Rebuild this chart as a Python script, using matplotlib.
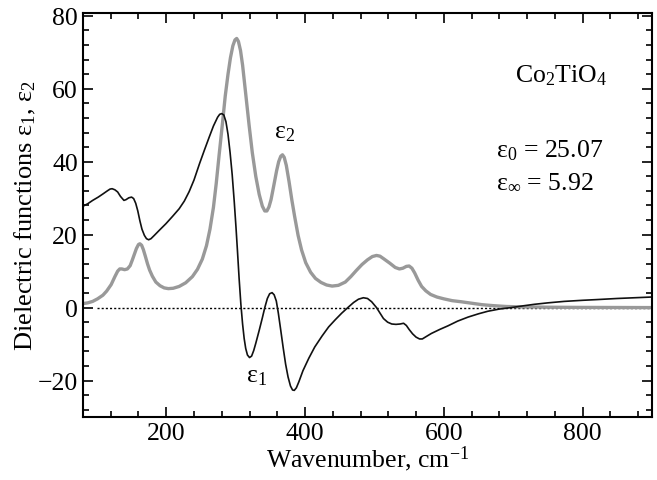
import matplotlib
matplotlib.use("Agg")
import matplotlib.pyplot as plt
from matplotlib.ticker import MultipleLocator

# ---- data ----
eps1_x = [80, 87, 94, 102, 109, 115, 119, 122, 126, 130, 134, 139, 142, 146, 150, 153, 156,
          159, 162, 165, 168.5, 171.5, 174.6, 178, 182.8, 190, 199.5, 209, 218.6, 226, 233,
          240, 248, 255, 262, 268, 274, 277, 280, 283, 286, 289, 292, 295, 298, 300.5,
          302.7, 305, 307.5, 310, 312.3, 314.5, 317, 320, 323, 326, 329, 334, 338.5, 342,
          345.7, 349, 352.5, 355.5, 358.6, 361.5, 365, 368.5, 372, 375.5, 379, 382, 384.5,
          387.5, 391, 397, 405.4, 414, 424.5, 434, 443.7, 453, 462.8, 470, 477, 484, 490,
          496, 503, 508, 513, 519, 525, 531, 537, 542, 546, 550, 555, 560, 565, 569, 575,
          582, 594, 606, 620, 635, 650, 663.5, 680, 697, 715, 730.5, 750, 773.5, 800, 821,
          850, 875, 900]
eps1_y = [27.8, 28.5, 29.4, 30.3, 31.2, 32.0, 32.5, 32.6, 32.3, 31.7, 30.5, 29.4, 29.6, 30.1,
          30.3, 29.9, 28.6, 26.5, 23.8, 21.5, 19.8, 18.9, 18.6, 18.9, 19.8, 21.2, 23.0, 25.0,
          27.1, 29.2, 31.8, 35.0, 39.5, 43.2, 46.8, 49.8, 52.2, 53.0, 53.2, 52.8, 51.0, 47.5,
          42.5, 36.5, 29.0, 22.0, 15.3, 8.0, 1.0, -4.5, -8.5, -11.2, -13.0, -13.7, -13.3,
          -11.8, -9.8, -6.2, -2.8, 0.0, 2.5, 3.8, 4.1, 3.5, 1.8, -1.5, -6.2, -11.0, -15.5,
          -19.0, -21.5, -22.6, -22.7, -22.0, -20.4, -17.3, -13.9, -10.8, -7.8, -5.3, -3.3,
          -1.5, 0.2, 1.4, 2.3, 2.7, 2.5, 1.6, 0.0, -1.5, -3.0, -4.0, -4.5, -4.6, -4.5, -4.3,
          -4.9, -6.0, -7.2, -8.1, -8.6, -8.6, -7.9, -7.1, -6.0, -5.0, -3.7, -2.6, -1.7, -1.0,
          -0.4, 0.0, 0.5, 0.9, 1.3, 1.7, 2.0, 2.2, 2.5, 2.7, 2.9]

eps2_x = [80, 87, 94, 101, 108.7, 114, 120.6, 126, 130, 133, 136, 140, 144, 148, 151, 154,
          157, 160, 162, 164.5, 167, 170, 173, 176, 180, 185, 191, 197, 203, 210, 218.6, 228,
          237.7, 245, 252, 258, 263, 268, 272, 276, 281, 285, 289, 292.5, 296, 299, 301.5,
          304, 307, 310, 314, 319.4, 324, 329, 334, 338.5, 342, 345, 348, 351, 355, 359, 362,
          365, 367.5, 370, 373, 377, 381, 385, 390, 395, 401, 408, 415, 423, 431, 439, 448,
          458, 466, 474, 482, 490, 497, 503, 508, 514, 522, 530, 536, 541, 546, 550, 554,
          558, 563, 568, 574, 581, 590, 600, 612, 625, 640, 655, 670, 690, 710, 750, 800, 900]
eps2_y = [1.1, 1.3, 1.7, 2.4, 3.4, 4.5, 6.3, 8.5, 10.0, 10.6, 10.6, 10.4, 10.6, 11.5, 13.0,
          14.6, 16.2, 17.3, 17.5, 17.1, 15.9, 14.0, 12.0, 10.3, 8.6, 7.0, 6.0, 5.4, 5.2, 5.3,
          5.8, 6.8, 8.5, 10.5, 13.3, 17.0, 21.5, 27.5, 34.0, 41.5, 50.5, 58.0, 64.0, 68.5,
          71.8, 73.4, 73.8, 73.0, 70.5, 66.5, 59.5, 50.0, 42.5, 36.0, 31.0, 27.8, 26.5, 26.5,
          27.6, 29.6, 33.5, 37.5, 40.0, 41.5, 41.9, 41.2, 39.0, 34.5, 29.5, 25.0, 19.8, 15.8,
          12.3, 9.7, 8.0, 6.9, 6.2, 5.9, 6.1, 7.0, 8.5, 10.2, 11.8, 13.1, 14.0, 14.3, 14.1,
          13.3, 12.2, 11.0, 10.6, 10.8, 11.3, 11.4, 10.8, 9.5, 7.5, 5.8, 4.6, 3.6, 2.9, 2.4,
          1.9, 1.6, 1.2, 0.8, 0.55, 0.3, 0.2, 0.1, 0.05, 0.0]

zero_x = [100, 900]
zero_y = [0, 0]

plt.rcParams['font.family'] = ['Liberation Serif', 'DejaVu Serif']
plt.rcParams['mathtext.fontset'] = 'custom'
plt.rcParams['mathtext.rm'] = 'Liberation Serif'
plt.rcParams['mathtext.it'] = 'Liberation Serif:italic'
plt.rcParams['mathtext.bf'] = 'Liberation Serif:bold'

fig = plt.figure(figsize=(6.57, 4.81), dpi=100)
ax = fig.add_axes([0.1263, 0.131, 0.9924 - 0.1263, 0.971 - 0.131])

ax.plot(zero_x, zero_y, color='black', lw=1.0, ls=(0, (1.5, 1.5)))
ax.plot(eps2_x, eps2_y, color='#999999', lw=2.4, solid_joinstyle='round',
        solid_capstyle='round')
ax.plot(eps1_x, eps1_y, color='#111111', lw=1.2, solid_joinstyle='round')

ax.set_xlim(80, 900)
ax.set_ylim(-30, 80.8)
ax.xaxis.set_major_locator(MultipleLocator(200))
ax.xaxis.set_minor_locator(MultipleLocator(40))
ax.yaxis.set_major_locator(MultipleLocator(20))
ax.yaxis.set_minor_locator(MultipleLocator(4))
ax.tick_params(which='both', direction='in', top=True, right=True, labelsize=18.5, width=1.2)
ax.tick_params(which='major', length=7)
ax.tick_params(which='minor', length=4)
for s in ax.spines.values():
    s.set_linewidth(1.5)

ax.set_xlabel(r'Wavenumber, cm$^{\mathrm{-1}}$', fontsize=18.5, labelpad=0)
ax.set_ylabel(r'Dielectric functions $\mathrm{ε}_1$, $\mathrm{ε}_2$', fontsize=19, labelpad=0)

ax.text(835.6, 61.9, r'$\mathrm{Co_2TiO_4}$', fontsize=18.5, ha='right', va='baseline')
ax.text(675, 41.4, r'$\mathrm{ε}_0$ = 25.07', fontsize=18.5, ha='left', va='baseline')
ax.text(675, 32.9, r'$\mathrm{ε}_{\infty}$ = 5.92', fontsize=18.5, ha='left', va='baseline')
ax.text(355, 46.8, r'$\mathrm{ε}_2$', fontsize=18.5, ha='left', va='baseline')
ax.text(315, -20.3, r'$\mathrm{ε}_1$', fontsize=18.5, ha='left', va='baseline')

fig.savefig('out.png', dpi=100)
